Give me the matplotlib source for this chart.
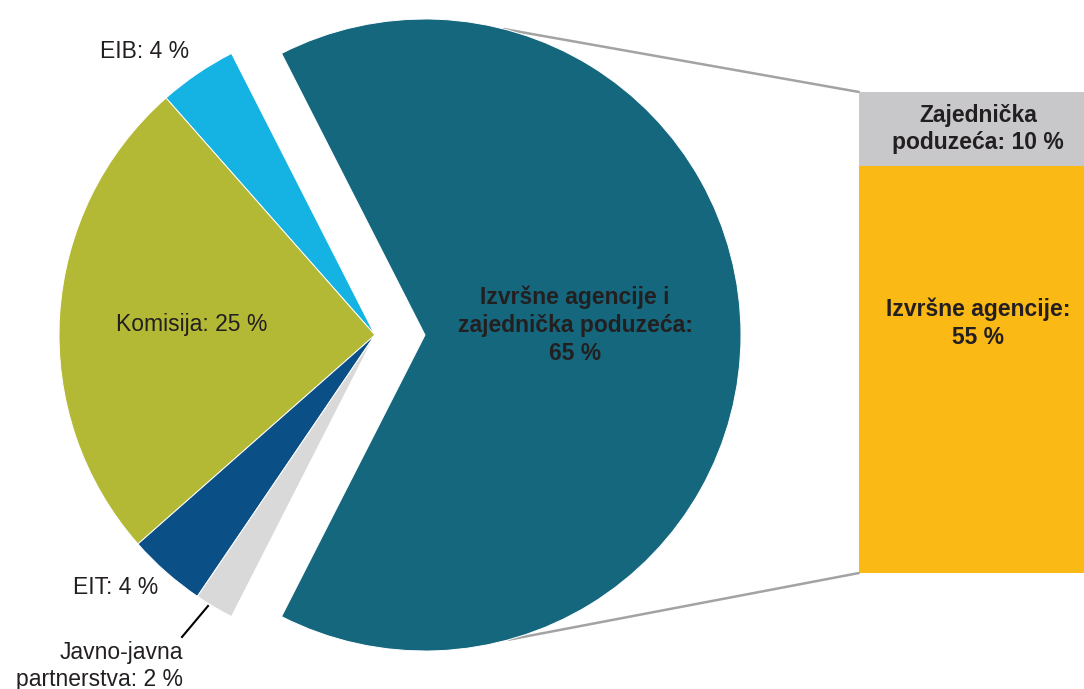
import math

import matplotlib.pyplot as plt
from matplotlib.patches import ConnectionPatch

plt.rcParams["font.family"] = ["Liberation Sans", "DejaVu Sans"]

# data
pie_labels = ["Izvršne agencije i\nzajednička poduzeća:", "EIB", "Komisija", "EIT",
              "Javno-javna\npartnerstva"]
pie_values = [65, 4, 25, 4, 2]
pie_colors = ["#14677d", "#14b3e4", "#b4b935", "#0a4f86", "#d9d9d9"]

bar_labels = ["Izvršne agencije", "Zajednička\npoduzeća"]
bar_values = [55, 10]
bar_colors = ["#fbb916", "#c8c8ca"]

TXT = "#231f20"
W, H = 1084, 689

fig = plt.figure(figsize=(W / 100, H / 100), dpi=100)
ax = fig.add_axes([0, 0, 1, 1])

# pie in pixel units, big slice pulled to the right
R = 316
wedges, _ = ax.pie(pie_values, colors=pie_colors, startangle=-117, counterclock=True,
                   explode=[50, 0, 0, 0, 0], center=(375, H - 335), radius=R,
                   wedgeprops=dict(edgecolor="white", linewidth=0.7), frame=True)
ax.set_xlim(0, W)
ax.set_ylim(0, H)
ax.set_aspect("equal")
ax.set_axis_off()

fs = 16.5
ax.text(575, H - 325, f"{pie_labels[0]}\n{pie_values[0]} %", ha="center", va="center",
        fontsize=fs, fontweight="bold", color=TXT, linespacing=1.27)
ax.text(145, H - 52, f"{pie_labels[1]}: {pie_values[1]} %", ha="center", va="center",
        fontsize=fs, color=TXT)
ax.text(192, H - 325, f"{pie_labels[2]}: {pie_values[2]} %", ha="center", va="center",
        fontsize=fs, color=TXT)
ax.text(116, H - 587, f"{pie_labels[3]}: {pie_values[3]} %", ha="center", va="center",
        fontsize=fs, color=TXT)
ax.text(183, H - 666, f"{pie_labels[4]}: {pie_values[4]} %", ha="right", va="center",
        fontsize=fs, color=TXT, linespacing=1.22)
ax.plot([208, 182], [H - 606, H - 637], color="black", lw=1.5)

# breakdown bar
bx = fig.add_axes([859 / W, 116 / H, 225 / W, 481 / H])
bx.set_xlim(-0.5, 0.5)
bx.set_ylim(0, sum(bar_values))
bx.set_axis_off()
bottom = 0
for lab, val, col in zip(bar_labels, bar_values, bar_colors):
    bx.bar(0, val, width=1, bottom=bottom, color=col, linewidth=0)
    if val > 20:
        txt, ty = f"{lab}:\n{val} %", 33.7
    else:
        txt, ty = f"{lab}: {val} %", bottom + val / 2
    bx.text(0.03, ty, txt, ha="center", va="center", fontsize=fs,
            fontweight="bold", color=TXT, linespacing=1.27)
    bottom += val

# connector lines from the big slice to the bar
big = wedges[0]
cx, cy = big.center
for ang, yb in [(75.5, sum(bar_values)), (-74.6, 0)]:
    p = (cx + big.r * math.cos(math.radians(ang)), cy + big.r * math.sin(math.radians(ang)))
    con = ConnectionPatch(xyA=p, coordsA=ax.transData, xyB=(-0.5, yb), coordsB=bx.transData,
                          color="#a3a3a3", lw=1.8, zorder=0)
    fig.add_artist(con)

fig.savefig("out.png", dpi=100)
